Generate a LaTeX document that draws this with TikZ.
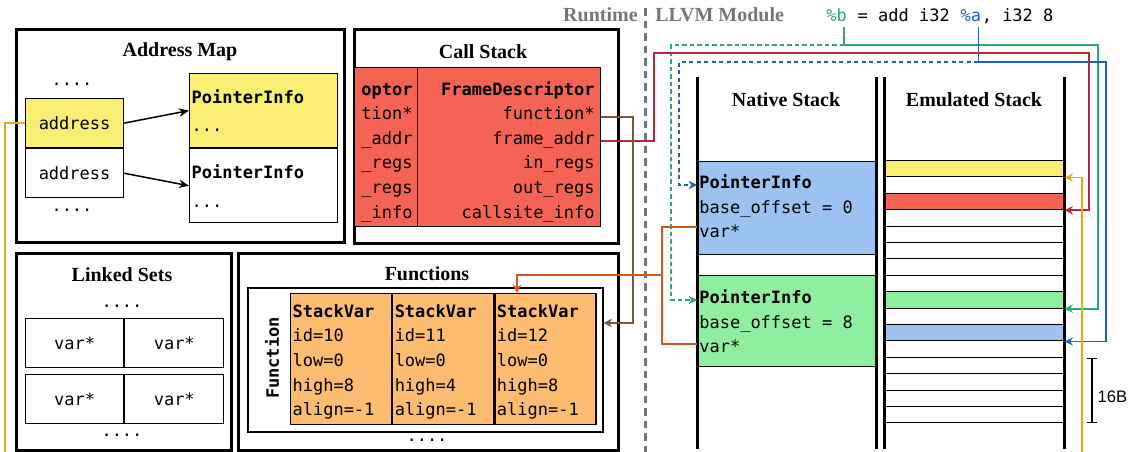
\documentclass[tikz,border=0pt]{standalone}
\usepackage{fontspec}
\setmainfont{Liberation Serif}
\setsansfont{Liberation Sans}
\setmonofont{DejaVu Sans Mono}
\usepackage{xcolor}
\usetikzlibrary{arrows.meta,positioning,calc}

\newlength\upx
\setlength\upx{0.6pt}
\newcommand\codett{\ttfamily\fontsize{10.2}{14.76}\selectfont}
\newcommand\titlefnt{\bfseries\fontsize{12}{14}\selectfont}

\definecolor{ptryellow}{HTML}{F8EE73}
\definecolor{framered}{HTML}{F56354}
\definecolor{varorange}{HTML}{FDBC6F}
\definecolor{infoblue}{HTML}{9BC2F1}
\definecolor{infogreen}{HTML}{90EEA0}
\definecolor{linkbrown}{HTML}{7A5A3C}
\definecolor{linkred}{HTML}{B22A3E}
\definecolor{linkgreen}{HTML}{2FA86B}
\definecolor{linkblue}{HTML}{2061C0}
\definecolor{linkgold}{HTML}{E6A820}
\definecolor{linkorange}{HTML}{D4581A}
\definecolor{sepgray}{HTML}{76767A}

\tikzset{
  panel/.style={draw, line width=1.8pt, inner sep=0pt, anchor=north west},
  panelhead/.style={font=\titlefnt, inner sep=0pt},
  box/.style={draw, line width=0.7pt, inner sep=0pt, anchor=north west, font=\codett},
  dots/.style={font=\codett, inner sep=0pt},
  coderow/.style={font=\codett, inner sep=0pt, text height=7.2pt, text depth=3.5pt},
  erow/.style={draw, line width=0.7pt, inner sep=0pt, minimum width=180\upx, minimum height=16.4\upx},
  wall/.style={line width=1.8pt},
  sepline/.style={draw=sepgray, line width=1.8pt, dash pattern=on 4.5pt off 3pt},
  sidelabel/.style={font=\titlefnt, text=sepgray, inner sep=0pt},
  link/.style={line width=1.1pt, -{Stealth[length=5pt,width=5pt]}},
  dashlink/.style={link, line width=1pt, dash pattern=on 2.5pt off 2pt},
  ptr/.style={line width=0.9pt, -{Stealth[length=6pt,width=5pt]}},
}

\begin{document}
\begin{tikzpicture}[x=0.6pt, y=-0.6pt]
\useasboundingbox (0,0) rectangle (1128,452);

% runtime: address map
\node[panel, minimum width=328\upx, minimum height=213\upx] (amap) at (15,28) {};
\node[panelhead] (amaphead) at (180,52) {Address Map};
\node[dots] (adotsA) at (72,84) {....};
\node[box, fill=ptryellow, minimum width=98\upx, minimum height=49\upx] (addr1) at (25,98) {address};
\node[box, minimum width=98\upx, minimum height=49\upx, below=0pt of addr1] (addr2) {address};
\node[dots] (adotsB) at (72,210) {....};
\node[box, fill=ptryellow, minimum width=148\upx, minimum height=74\upx, align=left, text width=144\upx] (pinfo1) at (189,73) {\textbf{PointerInfo}\\[2.6pt]...};
\node[box, minimum width=148\upx, minimum height=74\upx, align=left, text width=144\upx, below=0pt of pinfo1] (pinfo2) {\textbf{PointerInfo}\\[2.6pt]...};
\draw[ptr] (addr1.east) -- (pinfo1.west);
\draw[ptr] (addr2.east) -- (pinfo2.west);

% runtime: call stack
\node[panel, minimum width=264\upx, minimum height=214\upx] (cstack) at (353,28) {};
\node[panelhead] (cstackhead) at (483,52) {Call Stack};
\node[box, fill=framered, minimum width=63\upx, minimum height=159\upx] (fdprev) at (354,67) {};
\node[box, fill=framered, minimum width=183\upx, minimum height=159\upx] (fdesc) at (417,67) {};
\foreach \txt [count=\i from 0] in {\textbf{optor}, tion*, \_addr, \_regs, \_regs, \_info}
  \node[coderow, anchor=east] (fdp\i) at (413,92+24.6*\i) {\txt};
\foreach \txt [count=\i from 0] in {\textbf{FrameDescriptor}, function*, frame\_addr, in\_regs, out\_regs, callsite\_info}
  \node[coderow, anchor=east] (fd\i) at (595,92+24.6*\i) {\txt};

% runtime: linked sets
\node[panel, minimum width=215\upx, minimum height=197\upx] (lsets) at (15,252) {};
\node[panelhead] (lsetshead) at (122,275) {Linked Sets};
\node[dots] (ldotsA) at (122,306) {....};
\node[box, minimum width=98\upx, minimum height=49\upx] (ls11) at (25,318) {var*};
\node[box, minimum width=99\upx, minimum height=49\upx, right=0pt of ls11] (ls12) {var*};
\node[box, minimum width=98\upx, minimum height=49\upx] (ls21) at (25,374) {var*};
\node[box, minimum width=99\upx, minimum height=49\upx, right=0pt of ls21] (ls22) {var*};
\node[dots] (ldotsB) at (122,435) {....};

% runtime: functions
\node[panel, minimum width=380\upx, minimum height=197\upx] (funcs) at (237,252) {};
\node[panelhead] (funcshead) at (427,274) {Functions};
\node[box, line width=0.9pt, minimum width=355\upx, minimum height=144\upx] (func) at (247,287) {};
\node[font=\codett\bfseries, rotate=90, inner sep=0pt] (funclabel) at (272,358) {Function};
\node[box, fill=varorange, minimum width=101\upx, minimum height=131\upx, align=left, text width=97\upx] (sv1) at (290,293) {\rule{0pt}{11pt}\textbf{StackVar}\\id=10\\low=0\\high=8\\align=-1};
\node[box, fill=varorange, minimum width=101\upx, minimum height=131\upx, align=left, text width=97\upx, right=0pt of sv1] (sv2) {\rule{0pt}{11pt}\textbf{StackVar}\\id=11\\low=0\\high=4\\align=-1};
\node[box, fill=varorange, minimum width=101\upx, minimum height=131\upx, align=left, text width=97\upx, right=0pt of sv2] (sv3) {\rule{0pt}{11pt}\textbf{StackVar}\\id=12\\low=0\\high=8\\align=-1};
\node[dots] (fdots) at (427,440) {....};

% split
\draw[sepline] (645,8) -- (645,452);
\node[sidelabel, anchor=east] (rtlabel) at (638,15) {Runtime};
\node[sidelabel, anchor=west] (llvmlabel) at (655,15) {LLVM Module};

% instruction
\node[coderow, anchor=west, text=linkgreen] (instb) at (826,18) {\%b};
\node[coderow, right=6.12pt of instb] (instop) {= add i32};
\node[coderow, right=6.12pt of instop, text=linkblue] (insta) {\%a};
\node[coderow, right=0pt of insta] (instrest) {, i32 8};

% stacks
\node[minimum width=179\upx, minimum height=371\upx, inner sep=0pt, anchor=north west] (nstack) at (697,77) {};
\node[minimum width=180\upx, minimum height=371\upx, inner sep=0pt, anchor=north west] (estack) at (884,77) {};
\node[panelhead] (nstackhead) at (786,100) {Native Stack};
\node[panelhead] (estackhead) at (974,100) {Emulated Stack};

\node[box, fill=infoblue, minimum width=179\upx, minimum height=93\upx] (nblue) at (697,161) {};
\node[coderow, anchor=west, inner xsep=2\upx] (nbluehead) at (697,185) {\textbf{PointerInfo}};
\node[coderow, anchor=west, inner xsep=2\upx] (nblueoff) at (697,210) {base\_offset = 0};
\node[coderow, anchor=west, inner xsep=2\upx] (nbluevar) at (697,234) {var*};
\node[box, fill=infogreen, minimum width=179\upx, minimum height=91\upx] (ngreen) at (697,275) {};
\node[coderow, anchor=west, inner xsep=2\upx] (ngreenhead) at (697,300) {\textbf{PointerInfo}};
\node[coderow, anchor=west, inner xsep=2\upx] (ngreenoff) at (697,325) {base\_offset = 8};
\node[coderow, anchor=west, inner xsep=2\upx] (ngreenvar) at (697,349) {var*};

\foreach \c [count=\i] in {ptryellow,white,framered,white,white,white,white,white,infogreen,white,infoblue,white,white,white,white,white}
  \node[erow, fill=\c] (er\i) at (974,152.3+16.4*\i) {};

\draw[wall] (nstack.north west) -- (nstack.south west);
\draw[wall] (nstack.north east) -- (nstack.south east);
\draw[wall] (estack.north west) -- (estack.south west);
\draw[wall] (estack.north east) -- (estack.south east);

% connectors
\coordinate (gturn) at (1098,45);
\coordinate (gdash) at (671,45);
\coordinate (rturnA) at (654,53);
\coordinate (rturnB) at (1089,53);
\coordinate (bturn) at (1106,62);
\coordinate (bdash) at (679,62);
\coordinate (kturn) at (633,323);
\coordinate (ojoin) at (662,275);
\coordinate (svdrop) at (517,275);
\coordinate (goldL) at (5,452);
\coordinate (goldR) at (1082,452);
\coordinate (sbar) at (1092,0);
\path ($(instb.south east)+(-3,0)$) coordinate (bfoot) ($(insta.south east)+(-3,0)$) coordinate (afoot);

\draw[link, linkgreen] (bfoot) |- (gturn) |- (er9.south east);
\draw[dashlink, linkgreen] (bfoot |- gturn) -- (gdash) |- (ngreenhead.west);
\draw[link, linkblue] (afoot) |- (bturn) |- (er11.south east);
\draw[dashlink, linkblue] (afoot |- bturn) -- (bdash) |- (nbluehead.west);
\draw[link, linkred] (fd2.east -| fdesc.east) -| (rturnA) -- (rturnB) |- (er3.south east);
\draw[link, linkbrown] (fd1.east -| fdesc.east) -| (kturn) -- (func.east |- kturn);
\draw[line width=1.1pt, linkorange] ([yshift=4pt]nbluevar.west) -| (ojoin) |- ([yshift=3pt]ngreenvar.west);
\draw[link, linkorange] (ojoin) -- (svdrop) -- (svdrop |- sv3.north);
\draw[line width=1.1pt, linkgold] (addr1.west) -| (goldL);
\draw[link, linkgold] (goldR) |- (er1.south east);

\draw[line width=0.8pt, {Bar[width=6.5pt]}-{Bar[width=6.5pt]}] (er12.south -| sbar) -- (er16.south -| sbar) node[pos=0.6, right=3pt, inner sep=0pt, font=\sffamily\fontsize{10}{12}\selectfont] (sblabel) {16B};
\end{tikzpicture}
\end{document}
